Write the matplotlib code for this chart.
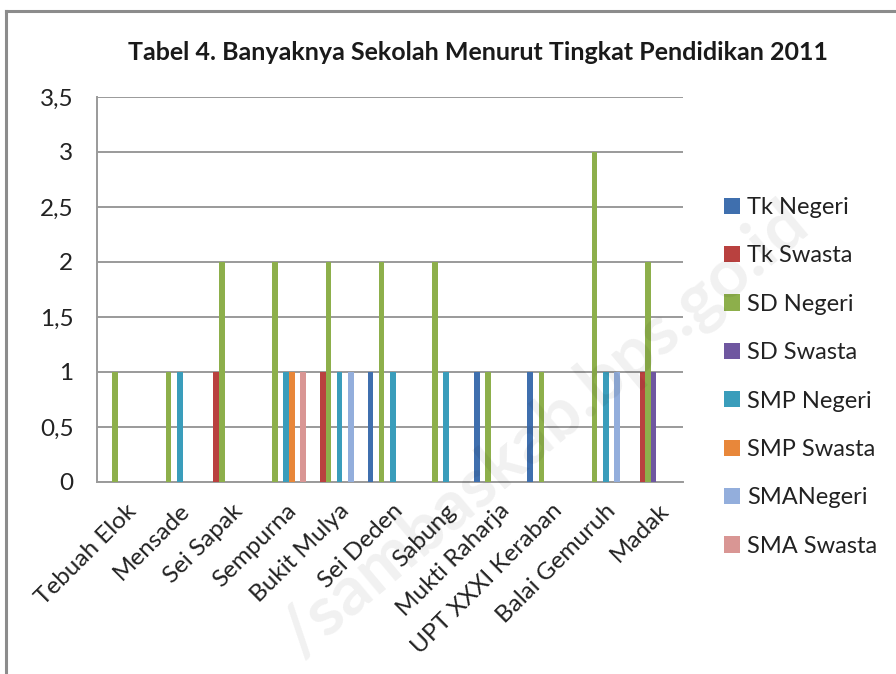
import numpy as np
import matplotlib.pyplot as plt
from matplotlib.lines import Line2D
from matplotlib.ticker import FuncFormatter
from matplotlib.transforms import ScaledTranslation
plt.switch_backend('agg')

plt.rcParams['font.family'] = ['Lato', 'DejaVu Sans']

desa = ['Tebuah Elok', 'Mensade', 'Sei Sapak', 'Sempurna', 'Bukit Mulya',
        'Sei Deden', 'Sabung', 'Mukti Raharja', 'UPT XXXI Keraban',
        'Balai Gemuruh', 'Madak']

tk_negeri = [0, 0, 0, 0, 0, 1, 0, 1, 1, 0, 0]
tk_swasta = [0, 0, 1, 0, 1, 0, 0, 0, 0, 0, 1]
sd_negeri = [1, 1, 2, 2, 2, 2, 2, 1, 1, 3, 2]
sd_swasta = [0, 0, 0, 0, 0, 0, 0, 0, 0, 0, 1]
smp_negeri = [0, 1, 0, 1, 1, 1, 1, 0, 0, 1, 0]
smp_swasta = [0, 0, 0, 1, 0, 0, 0, 0, 0, 0, 0]
sma_negeri = [0, 0, 0, 0, 1, 0, 0, 0, 0, 1, 0]
sma_swasta = [0, 0, 0, 1, 0, 0, 0, 0, 0, 0, 0]

series = [('Tk Negeri', tk_negeri), ('Tk Swasta', tk_swasta),
          ('SD Negeri', sd_negeri), ('SD Swasta', sd_swasta),
          ('SMP Negeri', smp_negeri), ('SMP Swasta', smp_swasta),
          ('SMANegeri', sma_negeri), ('SMA Swasta', sma_swasta)]
colors = ['#3F6FAE', '#B9413F', '#8DAF4B', '#6F57A0',
          '#3A9DBB', '#E8873A', '#93AEDC', '#D99694']

fig = plt.figure(figsize=(8.96, 6.74), dpi=100)
ax = fig.add_axes([97 / 896, 192 / 674, 586 / 896, 385 / 674])

x = np.arange(len(desa))
w = 1 / 9.5
for i, ((name, vals), c) in enumerate(zip(series, colors)):
    ax.bar(x + (i - 3.5) * w, vals, w, color=c, label=name, zorder=3)

ax.set_xlim(-0.5, len(desa) - 0.5)
ax.set_ylim(0, 3.5)
ax.set_yticks(np.arange(0, 3.51, 0.5))
ax.yaxis.set_major_formatter(FuncFormatter(lambda v, p: ('%g' % v).replace('.', ',')))
ax.grid(axis='y', color='#9a9a9a', linewidth=1.4, zorder=0)

for s in ['top', 'right']:
    ax.spines[s].set_visible(False)
for s in ['left', 'bottom']:
    ax.spines[s].set_color('#9a9a9a')
    ax.spines[s].set_linewidth(1.4)

ax.tick_params(axis='y', length=0, pad=17, labelsize=17.5, labelcolor='#222222')
ax.tick_params(axis='x', length=0, pad=13, labelsize=17.5, labelcolor='#222222')
ax.set_xticks(x)
ax.set_xticklabels(desa, rotation=45, ha='right', rotation_mode='anchor')
shift = ScaledTranslation(2 / 100, 0, fig.dpi_scale_trans)
for lab in ax.get_xticklabels():
    lab.set_transform(lab.get_transform() + shift)

fig.text(478 / 896, 1 - 52 / 674, 'Tabel 4. Banyaknya Sekolah Menurut Tingkat Pendidikan 2011',
         ha='center', va='center', fontsize=18, fontweight='bold', color='#1a1a1a')

ax.legend(loc='upper left', bbox_to_anchor=(724 / 896, 1 - 197 / 674),
          bbox_transform=fig.transFigure, frameon=False, fontsize=17,
          borderpad=0, borderaxespad=0,
          handlelength=0.68, handleheight=0.68, handletextpad=0.3,
          labelspacing=1.16, labelcolor='#222222')

# watermark, kept inside the canvas
fig.text(545 / 896, 1 - 430 / 674, '/sambaskab.bps.go.id', rotation=40,
         ha='center', va='center', rotation_mode='anchor', fontsize=50,
         fontweight='bold', color='#000000', alpha=0.06)

# outer chart frame
fig.add_artist(Line2D([6 / 896, 1], [1 - 11 / 674, 1 - 11 / 674],
                      transform=fig.transFigure, color='#8c8c8c', linewidth=2.2))
fig.add_artist(Line2D([6 / 896, 6 / 896], [0, 1 - 11 / 674],
                      transform=fig.transFigure, color='#8c8c8c', linewidth=2.2))

fig.savefig('out.png', dpi=100)
